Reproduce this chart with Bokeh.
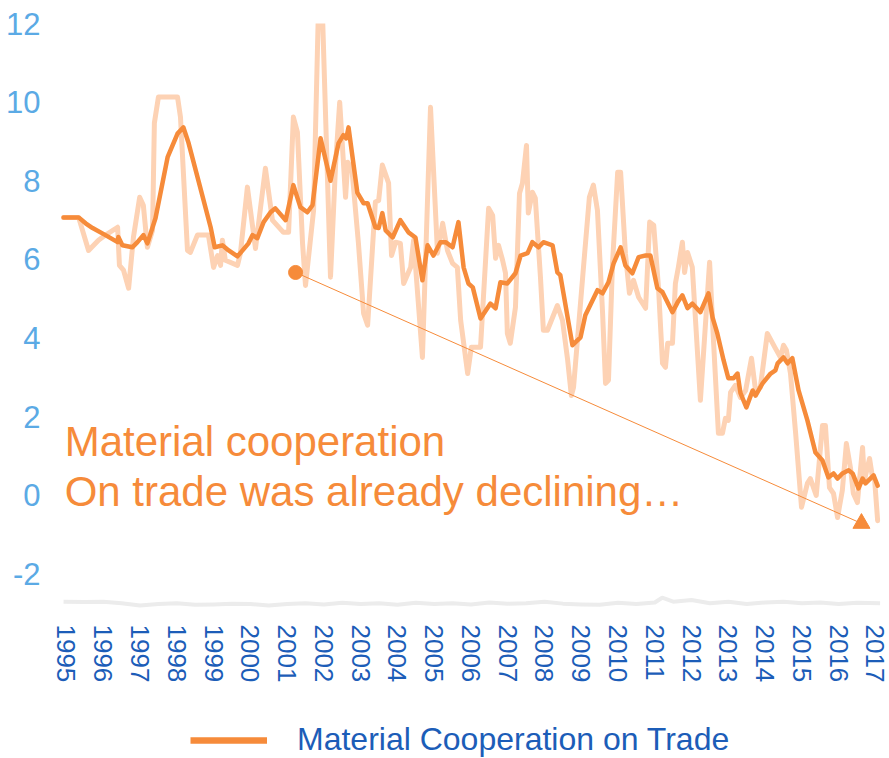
from bokeh.plotting import figure
from bokeh.layouts import column
from bokeh.models import Range1d, FixedTicker, Legend, LegendItem
from bokeh.core.properties import value
from bokeh.embed import file_html
from bokeh.resources import INLINE

# ---------------- data (decimal years, values) ----------------
smooth_t = [1994.92, 1995.33, 1995.52, 1995.71, 1996.06, 1996.39, 1996.41, 1996.52, 1996.79, 1996.93,
            1997.09, 1997.20, 1997.42, 1997.75, 1998.02, 1998.18, 1998.32, 1998.59, 1998.92, 1999.03,
            1999.24, 1999.41, 1999.65, 1999.95, 2000.06, 2000.19, 2000.36, 2000.55, 2000.68, 2000.96,
            2001.17, 2001.36, 2001.55, 2001.69, 2001.91, 2002.18, 2002.40, 2002.53, 2002.61, 2002.67,
            2002.91, 2003.08, 2003.19, 2003.40, 2003.49, 2003.59, 2003.68, 2003.87, 2004.08, 2004.30,
            2004.49, 2004.68, 2004.82, 2004.98, 2005.17, 2005.31, 2005.50, 2005.66, 2005.80, 2005.93,
            2006.05, 2006.26, 2006.53, 2006.67, 2006.80, 2006.99, 2007.21, 2007.35, 2007.54, 2007.67,
            2007.84, 2007.97, 2008.22, 2008.35, 2008.43, 2008.76, 2008.98, 2009.11, 2009.44, 2009.58,
            2009.74, 2009.88, 2010.07, 2010.20, 2010.39, 2010.56, 2010.75, 2010.88, 2011.07, 2011.21,
            2011.48, 2011.62, 2011.75, 2011.89, 2012.02, 2012.24, 2012.46, 2012.57, 2012.70, 2012.87,
            2013.00, 2013.14, 2013.25, 2013.33, 2013.49, 2013.66, 2013.74, 2013.93, 2014.15, 2014.28,
            2014.34, 2014.50, 2014.61, 2014.74, 2014.91, 2015.15, 2015.37, 2015.56, 2015.72, 2015.86,
            2015.97, 2016.10, 2016.27, 2016.38, 2016.54, 2016.65, 2016.73, 2016.95, 2017.06]
smooth_v = [7.07, 7.07, 6.92, 6.80, 6.62, 6.44, 6.57, 6.36, 6.31, 6.44,
            6.62, 6.41, 7.05, 8.60, 9.20, 9.36, 8.96, 8.00, 6.82, 6.31,
            6.36, 6.23, 6.08, 6.41, 6.62, 6.54, 6.95, 7.20, 7.30, 7.00,
            7.89, 7.33, 7.20, 7.38, 9.08, 8.00, 8.96, 9.16, 9.08, 9.36,
            7.70, 7.43, 7.43, 6.82, 6.80, 7.18, 6.74, 6.56, 7.00, 6.69,
            6.56, 5.47, 6.36, 6.10, 6.44, 6.44, 6.31, 6.95, 5.80, 5.39,
            5.29, 4.50, 4.88, 4.76, 5.42, 5.39, 5.65, 6.10, 6.16, 6.44,
            6.31, 6.44, 6.36, 5.67, 5.60, 3.82, 4.02, 4.58, 5.22, 5.14,
            5.42, 5.90, 6.31, 5.85, 5.65, 6.06, 6.10, 6.10, 5.27, 5.17,
            4.66, 4.91, 5.09, 4.76, 4.88, 4.66, 5.14, 4.53, 4.12, 3.44,
            2.98, 2.98, 3.10, 2.60, 2.24, 2.67, 2.54, 2.85, 3.10, 3.18,
            3.36, 3.51, 3.36, 3.49, 2.67, 1.91, 1.09, 0.89, 0.46, 0.56,
            0.43, 0.56, 0.64, 0.56, 0.18, 0.43, 0.31, 0.51, 0.25]

raw_t = [1994.92, 1995.33, 1995.60, 1995.87, 1996.06, 1996.39, 1996.44, 1996.55, 1996.69, 1996.82,
         1996.99, 1997.09, 1997.20, 1997.34, 1997.39, 1997.50, 1998.02, 1998.10, 1998.29, 1998.37,
         1998.56, 1998.86, 1999.00, 1999.11, 1999.19, 1999.24, 1999.32, 1999.65, 1999.73, 1999.92,
         2000.14, 2000.41, 2000.60, 2000.90, 2001.04, 2001.17, 2001.28, 2001.42, 2001.50, 2001.72,
         2001.85, 2001.96, 2002.18, 2002.32, 2002.43, 2002.59, 2002.65, 2002.76, 2002.94, 2003.08,
         2003.19, 2003.40, 2003.49, 2003.59, 2003.76, 2003.84, 2003.95, 2004.08, 2004.17, 2004.36,
         2004.44, 2004.68, 2004.90, 2005.09, 2005.23, 2005.36, 2005.50, 2005.63, 2005.72, 2005.91,
         2006.01, 2006.26, 2006.48, 2006.59, 2006.67, 2006.75, 2006.86, 2006.94, 2006.99, 2007.07,
         2007.21, 2007.32, 2007.40, 2007.51, 2007.56, 2007.67, 2007.75, 2007.89, 2007.97, 2008.08,
         2008.35, 2008.49, 2008.63, 2008.73, 2008.79, 2009.06, 2009.22, 2009.33, 2009.44, 2009.58,
         2009.66, 2009.74, 2009.85, 2009.99, 2010.07, 2010.20, 2010.31, 2010.42, 2010.56, 2010.75,
         2010.86, 2010.97, 2011.10, 2011.21, 2011.29, 2011.35, 2011.48, 2011.56, 2011.64, 2011.75,
         2011.81, 2011.89, 2012.02, 2012.24, 2012.49, 2012.60, 2012.73, 2012.84, 2012.92, 2013.00,
         2013.06, 2013.19, 2013.33, 2013.47, 2013.63, 2013.74, 2013.87, 2014.06, 2014.28, 2014.42,
         2014.50, 2014.58, 2014.69, 2014.83, 2014.99, 2015.15, 2015.23, 2015.39, 2015.56, 2015.64,
         2015.75, 2015.86, 2015.97, 2016.10, 2016.21, 2016.32, 2016.40, 2016.51, 2016.65, 2016.70,
         2016.84, 2016.92, 2016.98, 2017.06]
raw_v = [7.07, 7.07, 6.23, 6.49, 6.62, 6.82, 5.85, 5.73, 5.27, 6.56,
         7.58, 7.38, 6.31, 6.74, 9.47, 10.13, 10.13, 9.62, 6.23, 6.18,
         6.62, 6.62, 5.80, 6.10, 5.85, 6.49, 5.98, 5.85, 6.16, 7.84,
         6.28, 8.32, 7.00, 6.69, 6.69, 9.62, 9.24, 6.41, 5.34, 7.25,
         12.30, 12.30, 5.55, 8.45, 10.00, 7.58, 8.47, 8.32, 6.41, 4.63,
         4.33, 7.46, 7.50, 8.40, 7.94, 6.10, 6.44, 6.41, 5.39, 5.80,
         6.49, 3.51, 9.87, 6.16, 6.92, 6.23, 5.90, 5.80, 4.45, 3.10,
         3.77, 3.77, 7.30, 7.12, 6.03, 6.36, 5.98, 5.65, 4.12, 3.87,
         4.78, 7.68, 7.94, 8.90, 7.18, 7.71, 7.56, 5.55, 4.20, 4.20,
         4.83, 4.45, 3.44, 2.54, 2.75, 5.80, 7.58, 7.89, 7.25, 4.63,
         2.85, 2.93, 5.90, 8.22, 8.22, 6.16, 5.14, 5.47, 5.04, 4.76,
         6.95, 6.87, 5.29, 3.36, 3.26, 3.87, 3.87, 5.39, 5.80, 6.44,
         5.67, 6.18, 5.80, 2.42, 5.93, 3.87, 1.58, 1.58, 1.96, 1.91,
         2.62, 2.80, 2.49, 2.67, 3.49, 2.67, 2.75, 4.12, 3.74, 3.51,
         3.82, 3.69, 3.10, 1.58, -0.30, 0.31, 0.43, 0.00, 1.78, 1.78,
         0.20, 0.05, -0.56, 0.13, 1.32, 0.71, 0.05, -0.18, 1.22, 0.38,
         0.94, 0.46, 0.38, -0.64]

grey_t = [1994.92, 1995.5, 1996.0, 1996.5, 1997.0, 1997.5, 1998.0, 1998.5, 1999.0, 1999.5,
          2000.0, 2000.5, 2001.0, 2001.5, 2002.0, 2002.5, 2003.0, 2003.5, 2004.0, 2004.5,
          2005.0, 2005.5, 2006.0, 2006.5, 2007.0, 2007.5, 2008.0, 2008.5, 2009.0, 2009.5,
          2010.0, 2010.5, 2011.0, 2011.2, 2011.5, 2012.0, 2012.5, 2013.0, 2013.5, 2014.0,
          2014.5, 2015.0, 2015.5, 2016.0, 2016.5, 2017.13]
grey_v = [-2.70, -2.71, -2.70, -2.74, -2.80, -2.76, -2.74, -2.78, -2.77, -2.75,
          -2.76, -2.80, -2.76, -2.74, -2.77, -2.73, -2.76, -2.74, -2.78, -2.73,
          -2.76, -2.74, -2.77, -2.72, -2.75, -2.74, -2.70, -2.75, -2.77, -2.78,
          -2.73, -2.76, -2.72, -2.60, -2.70, -2.66, -2.74, -2.70, -2.76, -2.72,
          -2.70, -2.74, -2.72, -2.76, -2.73, -2.74]

year_ticks = list(range(1995, 2018))
year_labels = [str(y) for y in year_ticks]
y_ticks = [-2, 0, 2, 4, 6, 8, 10, 12]
y_labels = ["-2", "0", "2", "4", "6", "8", "10", "12"]

annot_lines = ["Material cooperation", "On trade was already declining\u2026"]
annot_x = [1994.95, 1994.95]
annot_y = [1.38, 0.11]
arrow_start = (2001.23, 5.67)
arrow_end = (2016.62, -0.71)
legend_label = "Material Cooperation on Trade"

ORANGE = "#F68B3A"
LIGHT = "#FDD2B4"
GREY = "#ECECEC"
DARK_BLUE = "#1C5DB8"
LIGHT_BLUE = "#5BAAE5"
FONT = "Liberation Sans"

# main chart: 23 top + 588 frame + 108 bottom = 719 tall
p = figure(width=889, height=719, output_backend="svg", toolbar_location=None,
           x_range=Range1d(1994.837, 2017.138), y_range=Range1d(-2.95, 12.0),
           min_border_left=60, min_border_right=9, min_border_top=23, min_border_bottom=108)
p.outline_line_color = None
p.grid.visible = False

p.line(grey_t, grey_v, line_color=GREY, line_width=4, line_join="round")
p.line(raw_t, raw_v, line_color=LIGHT, line_width=5, line_join="round", line_cap="round")
p.line(smooth_t, smooth_v, line_color=ORANGE, line_width=4.5, line_join="round", line_cap="round")

# annotation arrow
p.line([arrow_start[0], arrow_end[0]], [arrow_start[1], arrow_end[1]], line_color=ORANGE, line_width=1)
p.scatter([arrow_start[0]], [arrow_start[1]], marker="circle", size=14, fill_color=ORANGE, line_color=ORANGE)
p.scatter([arrow_end[0]], [arrow_end[1]], marker="triangle", size=17, fill_color=ORANGE, line_color=ORANGE)

p.text(x=annot_x, y=annot_y, text=annot_lines, text_color=ORANGE, text_font=value(FONT),
       text_font_size="42px", text_baseline="alphabetic", text_align="left")

# axes
xa = p.xaxis[0]
xa.ticker = FixedTicker(ticks=year_ticks)
xa.major_label_overrides = {t: l for t, l in zip(year_ticks, year_labels)}
xa.major_label_orientation = "vertical"
xa.major_label_text_font = FONT
xa.major_label_text_font_size = "26px"
xa.major_label_text_color = DARK_BLUE
xa.major_label_standoff = 7
xa.axis_line_color = None
xa.major_tick_line_color = None
xa.minor_tick_line_color = None

ya = p.yaxis[0]
ya.ticker = FixedTicker(ticks=y_ticks)
ya.major_label_overrides = {t: l for t, l in zip(y_ticks, y_labels)}
ya.major_label_text_font = FONT
ya.major_label_text_font_size = "31px"
ya.major_label_text_color = LIGHT_BLUE
ya.major_label_standoff = 14
ya.axis_line_color = None
ya.major_tick_line_color = None
ya.minor_tick_line_color = None

# legend strip below the chart (its line renderer holds the series but lies outside the strip's view)
lg = figure(width=889, height=39, output_backend="svg", toolbar_location=None,
            x_axis_type=None, y_axis_type=None,
            x_range=Range1d(0, 1), y_range=Range1d(0, 1),
            min_border_left=0, min_border_right=0, min_border_top=0, min_border_bottom=0)
lg.outline_line_color = None
lg.grid.visible = False
proxy = lg.line(smooth_t, smooth_v, line_color=ORANGE, line_width=6.5)
legend = Legend(items=[LegendItem(label=legend_label, renderers=[proxy])],
                location=(130, 0), orientation="horizontal",
                glyph_width=77, glyph_height=20, label_standoff=30,
                label_text_font=FONT, label_text_font_size="32px", label_text_color=DARK_BLUE,
                padding=0, margin=0, spacing=0,
                border_line_alpha=0, background_fill_alpha=0)
lg.add_layout(legend, "center")

layout = column(p, lg, spacing=0)
open("out.html", "w").write(file_html(layout, INLINE))
